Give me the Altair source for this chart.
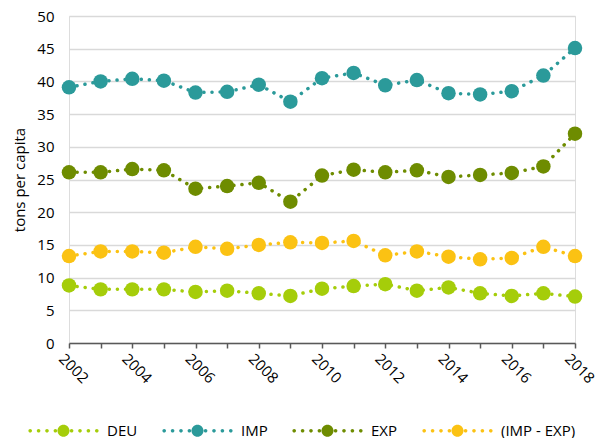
import altair as alt
import pandas as pd

years = list(range(2002, 2019))
deu = [8.8, 8.2, 8.2, 8.2, 7.8, 8.0, 7.6, 7.2, 8.3, 8.7, 9.0, 8.0, 8.5, 7.6, 7.2, 7.6, 7.1]
imp = [39.1, 40.0, 40.4, 40.1, 38.3, 38.4, 39.5, 36.9, 40.5, 41.3, 39.4, 40.2, 38.2, 38.0, 38.5, 40.9, 45.1]
exp_ = [26.1, 26.1, 26.6, 26.4, 23.6, 24.0, 24.5, 21.6, 25.6, 26.5, 26.1, 26.4, 25.4, 25.7, 26.0, 27.0, 32.0]
diff = [13.3, 14.0, 14.0, 13.8, 14.7, 14.4, 15.0, 15.4, 15.3, 15.6, 13.4, 14.0, 13.2, 12.8, 13.0, 14.7, 13.3]

series = ["DEU", "IMP", "EXP", "(IMP - EXP)"]
colors = ["#a5cd0a", "#2b9a9a", "#6e8c00", "#fbc213"]

rows = []
for name, vals in zip(series, [deu, imp, exp_, diff]):
    for y, v in zip(years, vals):
        rows.append({"year": y, "value": v, "series": name})
df = pd.DataFrame(rows)

# legend symbol: dotted line with a big circle in the middle
def circ(cx, r):
    return f"M{cx - r},0A{r},{r} 0 1,0 {cx + r},0A{r},{r} 0 1,0 {cx - r},0Z"

parts = [circ(0, 1)]
for d in [1.35, 2.75, 4.15, 5.55]:
    parts.append(circ(-d, 0.3))
    parts.append(circ(d, 0.3))
legend_path = "".join(parts)

FONT = "Open Sans"

color = alt.Color(
    "series:N",
    scale=alt.Scale(domain=series, range=colors),
    sort=series,
    legend=alt.Legend(
        title=None,
        orient="none",
        legendX=-13,
        legendY=407,
        direction="horizontal",
        columns=4,
        columnPadding=24,
        symbolType=legend_path,
        symbolSize=144,
        symbolStrokeWidth=0,
        labelOffset=36,
        labelFontSize=15,
        labelFont=FONT,
        labelColor="#000000",
        padding=0,
    ),
)

x = alt.X(
    "year:Q",
    scale=alt.Scale(domain=[2002, 2018], nice=False, zero=False),
    axis=alt.Axis(
        title=None,
        values=years,
        labelExpr="datum.value % 2 == 0 ? format(datum.value, 'd') : ''",
        labelAngle=45,
        labelAlign="left",
        labelBaseline="top",
        labelFontSize=15,
        labelFont=FONT,
        labelColor="#000000",
        labelPadding=3,
        labelOffset=-3,
        grid=False,
        domainColor="#595959",
        domainWidth=1.5,
        tickColor="#595959",
        tickWidth=1.5,
        tickSize=5,
        labelOverlap=False,
    ),
)
y = alt.Y(
    "value:Q",
    scale=alt.Scale(domain=[0, 50], nice=False),
    axis=alt.Axis(
        title="tons per capita",
        values=list(range(0, 51, 5)),
        titleFontSize=15,
        titleFont=FONT,
        titleFontWeight="normal",
        titleColor="#000000",
        labelFontSize=15,
        labelFont=FONT,
        labelColor="#000000",
        labelPadding=15,
        ticks=False,
        domain=False,
        gridColor="#d9d9d9",
        gridWidth=1.5,
        titlePadding=9,
    ),
)

base = alt.Chart(df)
lines = base.mark_line(
    strokeDash=[0.1, 8], strokeWidth=3.5, strokeCap="round"
).encode(x=x, y=y, color=color, detail="series:N")
points = base.mark_point(filled=True, size=210, opacity=1).encode(x=x, y=y, color=color)

chart = (
    alt.layer(lines, points)
    .properties(
        width=506,
        height=327,
        autosize=alt.AutoSizeParams(type="none"),
        padding={"left": 61, "top": 8, "right": 20, "bottom": 95},
    )
    .configure_view(stroke=None)
    .configure(background="white")
)

chart.save("out.html", embed_options={"renderer": "svg", "actions": False})
